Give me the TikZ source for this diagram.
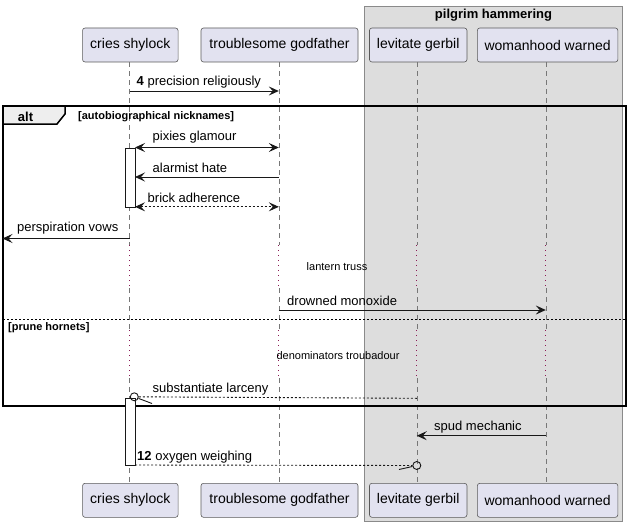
\documentclass[tikz,border=0pt]{standalone}
\usepackage{fontspec}
\setmainfont{Liberation Sans}
\usetikzlibrary{arrows.meta}
\definecolor{partfill}{HTML}{E2E2F0}
\definecolor{partline}{HTML}{5A5A5A}
\definecolor{boxfill}{HTML}{DDDDDD}
\definecolor{boxline}{HTML}{8A8A8A}
\definecolor{msgline}{HTML}{181818}
\definecolor{lifeline}{HTML}{777777}
\definecolor{delaydot}{HTML}{8B1A55}
\definecolor{tabfill}{HTML}{EEEEEE}
\tikzset{
  part/.style={draw=partline, fill=partfill, rounded corners=2.5pt, line width=0.6pt,
    minimum height=34pt, inner sep=0pt, font=\fontsize{14}{16}\selectfont, text=black},
  life/.style={draw=lifeline, line width=0.6pt, dash pattern=on 5pt off 4pt},
  delayl/.style={draw=delaydot, line width=0.8pt, dash pattern=on 1pt off 4pt},
  msg/.style={draw=msgline, line width=0.9pt},
  msgd/.style={draw=msgline, line width=0.9pt, dash pattern=on 2pt off 2pt},
  head/.style={-{Stealth[length=10pt,width=9pt,inset=4pt]}},
  bihead/.style={{Stealth[length=10pt,width=9pt,inset=4pt]}-{Stealth[length=10pt,width=9pt,inset=4pt]}},
  lbl/.style={font=\fontsize{13}{15}\selectfont, inner sep=0pt, anchor=west, text=black},
  small/.style={font=\fontsize{11}{13}\selectfont, inner sep=0pt, text=black},
  cond/.style={font=\bfseries\fontsize{11}{13}\selectfont, inner sep=0pt, anchor=west},
  actbox/.style={draw=msgline, fill=white, line width=0.8pt},
  circ/.style={draw=msgline, line width=0.9pt, fill=none},
}
\begin{document}
\begin{tikzpicture}[x=1pt,y=-1pt]
\useasboundingbox (0,0) rectangle (631,524);
\fill[white] (0,0) rectangle (631,524);
% group box
\node[draw=boxline, fill=boxfill, line width=0.7pt, minimum width=258pt, minimum height=514.5pt, inner sep=0pt, anchor=north west] (grp) at (364,6.5) {};
\node[font=\bfseries\fontsize{13}{15}\selectfont, inner sep=0pt] (grpt) at (493.5,15.5) {pilgrim hammering};
% participants top
\node[part, minimum width=95.5pt] (csT) at (130.3,45) {cries shylock};
\node[part, minimum width=157pt] (tgT) at (279.5,45) {troublesome godfather};
\node[part, minimum width=97.5pt] (lgT) at (418.2,45) {levitate gerbil};
\node[part, minimum width=140.5pt] (wwT) at (547.6,45) {womanhood warned};
% participants bottom
\node[part, minimum width=95.5pt] (csB) at (130.3,500.3) {cries shylock};
\node[part, minimum width=157pt] (tgB) at (279.5,500.3) {troublesome godfather};
\node[part, minimum width=97.5pt] (lgB) at (418.2,500.3) {levitate gerbil};
\node[part, minimum width=140.5pt] (wwB) at (547.6,500.3) {womanhood warned};
% lifelines with delays
\foreach \t/\b/\x in {csT/csB/129.5, tgT/tgB/278.8, lgT/lgB/416.8, wwT/wwB/545.8}{
  \coordinate (d1a) at (\x,245);
  \coordinate (d1b) at (\x,288);
  \coordinate (d2a) at (\x,330);
  \coordinate (d2b) at (\x,378);
  \draw[life] (\t.south -| d1a) -- (d1a);
  \draw[delayl] (d1a) -- (d1b);
  \draw[life] (d1b) -- (d2a);
  \draw[delayl] (d2a) -- (d2b);
  \draw[life] (d2b) -- (\b.north -| d2b);
}
% alt frame
\draw[line width=1.5pt, fill=tabfill] (3,106) -- (65,106) -- (65,114) -- (57,124) -- (3,124) -- cycle;
\draw[line width=1.5pt] (3,106) rectangle (626,406);
\node[font=\bfseries\fontsize{13}{15}\selectfont, inner sep=0pt] (alt) at (25.5,116.5) {alt};
\node[cond] (c1) at (78,116.5) {[autobiographical nicknames]};
\draw[line width=0.8pt, dash pattern=on 2pt off 2pt] (3,319) -- (626,319);
\node[cond] (c2) at (8,327.5) {[prune hornets]};
% activation boxes
\node[actbox, minimum width=10.5pt, minimum height=59.5pt, inner sep=0pt, anchor=north west] (act1) at (124.5,147.5) {};
\node[actbox, minimum width=10.5pt, minimum height=67pt, inner sep=0pt, anchor=north west] (act2) at (124.5,398.3) {};
% coordinates
\coordinate (m1a) at (129.5,91); \coordinate (m1b) at (278.8,91);
\coordinate (m2a) at (135,147.5); \coordinate (m2b) at (278.8,147.5);
\coordinate (m3a) at (278.8,177); \coordinate (m3b) at (135,177);
\coordinate (m4a) at (135,206.8); \coordinate (m4b) at (278.8,206.8);
\coordinate (m5a) at (129.5,238.5); \coordinate (m5b) at (2.5,238.5);
\coordinate (m6a) at (278.8,310); \coordinate (m6b) at (545.8,310);
\coordinate (m7a) at (416.8,398.3); \coordinate (m7c) at (134.3,396.8);
\coordinate (m8a) at (545.8,435.7); \coordinate (m8b) at (416.8,435.7);
\coordinate (m9a) at (135,465); \coordinate (m9c) at (416.8,465.5);
% messages
\draw[msg, head] (m1a) -- (m1b);
\node[lbl] (l1) at (136.5,82) {\textbf{4} precision religiously};
\draw[msg, bihead] (m2a) -- (m2b);
\node[lbl] (l2) at (152.5,137.5) {pixies glamour};
\draw[msg, head] (m3a) -- (m3b);
\node[lbl] (l3) at (152.5,168) {alarmist hate};
\draw[msgd, bihead] (m4a) -- (m4b);
\node[lbl] (l4) at (147.5,198) {brick adherence};
\draw[msg, head] (m5a) -- (m5b);
\node[lbl] (l5) at (17,228.5) {perspiration vows};
\node[small] (dl1) at (337,267) {lantern truss};
\draw[msg, head] (m6a) -- (m6b);
\node[lbl] (l6) at (287,300.5) {drowned monoxide};
\node[small] (dl2) at (338,356) {denominators troubadour};
% substantiate larceny
\node[circ, circle, minimum size=8pt, inner sep=0pt] (o1) at (m7c) {};
\draw[msgd] (m7a) -- (o1);
\draw[msg] (o1) -- (152,403.5);
\node[lbl] (l7) at (152.5,389) {substantiate larceny};
% spud mechanic
\draw[msg, head] (m8a) -- (m8b);
\node[lbl] (l8) at (434,427) {spud mechanic};
% oxygen weighing
\node[circ, circle, minimum size=8pt, inner sep=0pt] (o2) at (m9c) {};
\draw[msgd] (m9a) -- (o2);
\draw[msg] (o2) -- (399,469.5);
\node[lbl] (l9) at (137,457.5) {\textbf{12} oxygen weighing};
\end{tikzpicture}
\end{document}
